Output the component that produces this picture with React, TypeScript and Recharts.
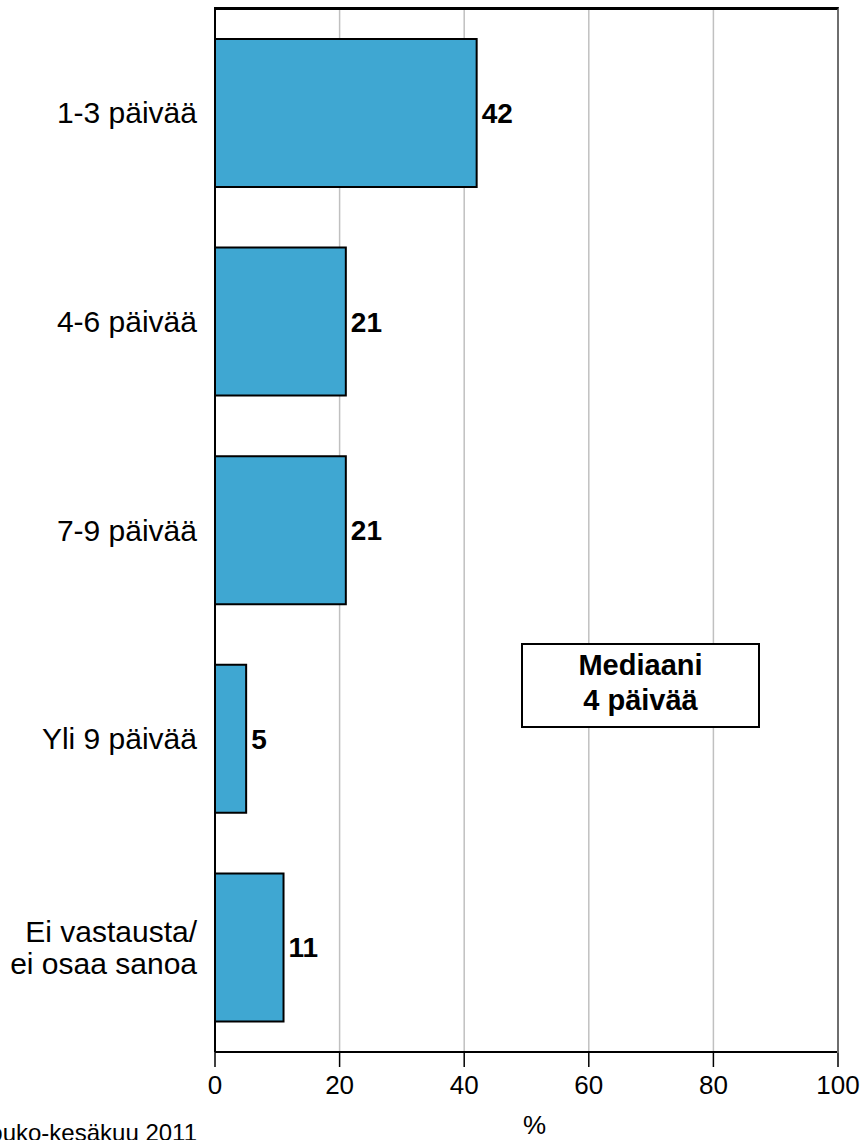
import React from 'react';
import { BarChart, Bar, XAxis, YAxis, CartesianGrid, LabelList } from 'recharts';

const categories = ['1-3 päivää', '4-6 päivää', '7-9 päivää', 'Yli 9 päivää', 'Ei vastausta/\nei osaa sanoa'];
const shares = [42, 21, 21, 5, 11];
const xTicks = [0, 20, 40, 60, 80, 100];

const data = categories.map((name, i) => ({ name, value: shares[i] }));

const FONT = 'Arial, "Liberation Sans", sans-serif';

function CategoryTick(props: any) {
  const { x, y, payload } = props;
  const lines = String(payload.value).split('\n');
  const lh = 32;
  const start = -((lines.length - 1) * lh) / 2;
  return (
    <text x={x - 10} y={y} textAnchor="end" fontSize={30} fontFamily={FONT} fill="#000">
      {lines.map((l, i) => (
        <tspan key={i} x={x - 10} dy={i === 0 ? start + 10 : lh}>
          {l}
        </tspan>
      ))}
    </text>
  );
}

export default function App() {
  return (
    <div style={{ position: 'absolute', left: 0, top: 0, width: 867, height: 1140, background: '#fff', overflow: 'hidden', fontFamily: FONT }}>
      <BarChart
        width={867}
        height={1140}
        data={data}
        layout="vertical"
        margin={{ top: 9, right: 29, bottom: 38, left: 0 }}
        barSize={148}
      >
        <CartesianGrid stroke="#c0c0c0" strokeWidth={1.5} horizontal={false} />
        <XAxis
          type="number"
          domain={[0, 100]}
          ticks={xTicks}
          height={50}
          axisLine={{ stroke: '#000', strokeWidth: 2 }}
          tickLine={{ stroke: '#000', strokeWidth: 1.5 }}
          tickSize={15}
          tick={{ fontSize: 26, fill: '#000', fontFamily: FONT }}
          tickMargin={9}
        />
        <YAxis
          type="category"
          dataKey="name"
          width={215}
          axisLine={{ stroke: '#000', strokeWidth: 2 }}
          tickLine={false}
          tick={<CategoryTick />}
        />
        <Bar dataKey="value" fill="#3fa7d2" stroke="#000" strokeWidth={2} isAnimationActive={false}>
          <LabelList
            dataKey="value"
            position="right"
            offset={5}
            style={{ fontSize: 28, fontWeight: 'bold', fill: '#000', fontFamily: FONT }}
          />
        </Bar>
      </BarChart>
      {/* plot frame: black top edge, grey right edge */}
      <div
        style={{
          position: 'absolute',
          left: 214,
          top: 7,
          width: 623,
          height: 1043,
          borderTop: '3px solid #000',
          borderRight: '2px solid #6e6e6e',
          pointerEvents: 'none',
          zIndex: 5,
        }}
      />
      <div
        style={{
          position: 'absolute',
          left: 521,
          top: 643,
          width: 235,
          height: 78,
          border: '2px solid #000',
          background: '#fff',
          textAlign: 'center',
          fontWeight: 'bold',
          fontSize: 29,
          lineHeight: '35px',
          paddingTop: 3,
          boxSizing: 'content-box',
          zIndex: 5,
        }}
      >
        Mediaani
        <br />
        4 päivää
      </div>
      <div style={{ position: 'absolute', left: 523, top: 1110, fontSize: 26, lineHeight: '30px' }}>%</div>
      <div style={{ position: 'absolute', right: 670, top: 1120, fontSize: 24, lineHeight: '26px', whiteSpace: 'nowrap' }}>
        Touko-kesäkuu 2011
      </div>
    </div>
  );
}
